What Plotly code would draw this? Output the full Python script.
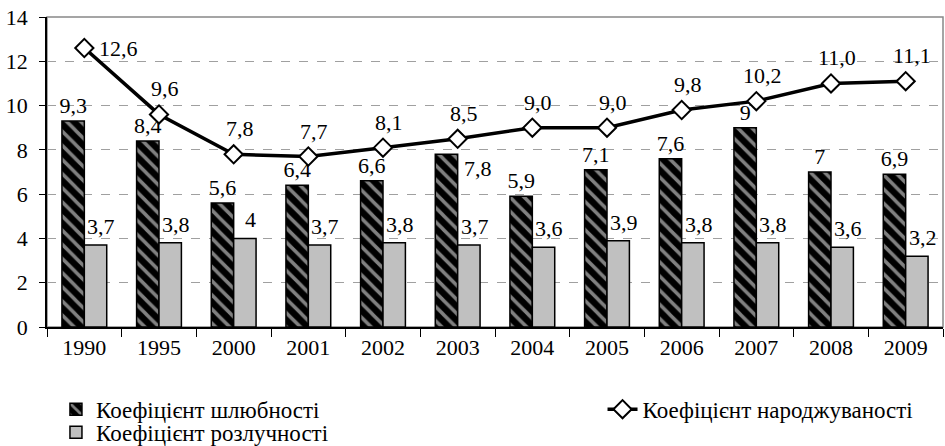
import plotly.graph_objects as go

years = ["1990", "1995", "2000", "2001", "2002", "2003", "2004", "2005", "2006", "2007", "2008", "2009"]
marriage = [9.3, 8.4, 5.6, 6.4, 6.6, 7.8, 5.9, 7.1, 7.6, 9, 7, 6.9]
marriage_labels = ["9,3", "8,4", "5,6", "6,4", "6,6", "7,8", "5,9", "7,1", "7,6", "9", "7", "6,9"]
divorce = [3.7, 3.8, 4, 3.7, 3.8, 3.7, 3.6, 3.9, 3.8, 3.8, 3.6, 3.2]
divorce_labels = ["3,7", "3,8", "4", "3,7", "3,8", "3,7", "3,6", "3,9", "3,8", "3,8", "3,6", "3,2"]
birth = [12.6, 9.6, 7.8, 7.7, 8.1, 8.5, 9.0, 9.0, 9.8, 10.2, 11.0, 11.1]
birth_labels = ["12,6", "9,6", "7,8", "7,7", "8,1", "8,5", "9,0", "9,0", "9,8", "10,2", "11,0", "11,1"]

FONT = "Liberation Serif"
FS = 22

# bar label for 2003 marriage is drawn beside the bar (line crosses above it)
side_idx = 5
bar_text = [t if i != side_idx else "" for i, t in enumerate(marriage_labels)]

fig = go.Figure()
fig.add_trace(go.Bar(
    x=years, y=marriage, name="Коефіцієнт шлюбності",
    text=bar_text, textposition="outside", cliponaxis=False, constraintext="none",
    textfont=dict(size=FS, color="black", family=FONT),
    marker=dict(color="black", line=dict(color="black", width=1.5),
                pattern=dict(shape="\\", bgcolor="black", fgcolor="white", size=10, solidity=0.35)),
    legend="legend",
))
fig.add_trace(go.Bar(
    x=years, y=divorce, name="Коефіцієнт розлучності",
    marker=dict(color="#c0c0c0", line=dict(color="black", width=1.5)),
    legend="legend3",
))
fig.add_trace(go.Scatter(
    x=years, y=birth, name="Коефіцієнт народжуваності",
    mode="lines+markers",
    line=dict(color="black", width=3.5),
    marker=dict(symbol="diamond", size=14, color="white", line=dict(color="black", width=2)),
    cliponaxis=False,
    legend="legend2",
))

lab_font = dict(size=FS, family=FONT, color="black")
annotations = []
for i, (v, t) in enumerate(zip(birth, birth_labels)):
    if i == 0:
        annotations.append(dict(x=i, y=v, text=t, showarrow=False, xanchor="left",
                                xshift=13, yshift=0, font=lab_font))
    else:
        annotations.append(dict(x=i, y=v, text=t, showarrow=False, xanchor="center",
                                yanchor="bottom", xshift=6, yshift=11, font=lab_font))
for i, (v, t) in enumerate(zip(divorce, divorce_labels)):
    annotations.append(dict(x=i, y=v, text=t, showarrow=False, xanchor="center",
                            yanchor="bottom", xshift=17, yshift=4, font=lab_font))
annotations.append(dict(x=side_idx, y=marriage[side_idx], text=marriage_labels[side_idx],
                        showarrow=False, xanchor="left", yanchor="top", xshift=4, yshift=0,
                        font=lab_font))

leg_common = dict(xanchor="left", yanchor="top", orientation="v",
                  font=dict(size=23, family=FONT, color="black"),
                  bgcolor="rgba(0,0,0,0)", itemwidth=30)

fig.update_layout(
    width=945, height=446,
    margin=dict(l=47, r=2, t=17, b=119, autoexpand=False),
    paper_bgcolor="white", plot_bgcolor="white",
    font=dict(family=FONT, size=FS, color="black"),
    barmode="group", bargap=0.4, bargroupgap=0,
    showlegend=True,
    legend=dict(x=0.01, y=-0.196, **leg_common),
    legend3=dict(x=0.01, y=-0.27, **leg_common),
    legend2=dict(x=0.62, y=-0.196, **leg_common),
    xaxis=dict(type="category", range=[-0.5, len(years) - 0.5], showline=True,
               linecolor="black", linewidth=1.5, ticks="outside",
               tickson="boundaries", ticklen=8, tickcolor="black", tickangle=0,
               tickfont=dict(size=FS, family=FONT), showgrid=False),
    yaxis=dict(range=[0, 14], dtick=2, showline=True, linecolor="black", linewidth=1.5,
               ticks="outside", ticklen=6, tickcolor="black", ticklabelstandoff=7,
               ticklabeloverflow="allow",
               showgrid=True, gridcolor="#a0a0a0", griddash="dash", gridwidth=1,
               tickfont=dict(size=FS, family=FONT), zeroline=False),
    shapes=[dict(type="rect", xref="x domain", yref="y domain", x0=0, x1=1, y0=0, y1=1,
                 line=dict(color="#888888", width=1.5), layer="below")],
    annotations=annotations,
)

fig.write_html("out.html", config={"displayModeBar": False},
               post_script="document.body.style.margin='0';document.body.style.overflow='hidden';")
